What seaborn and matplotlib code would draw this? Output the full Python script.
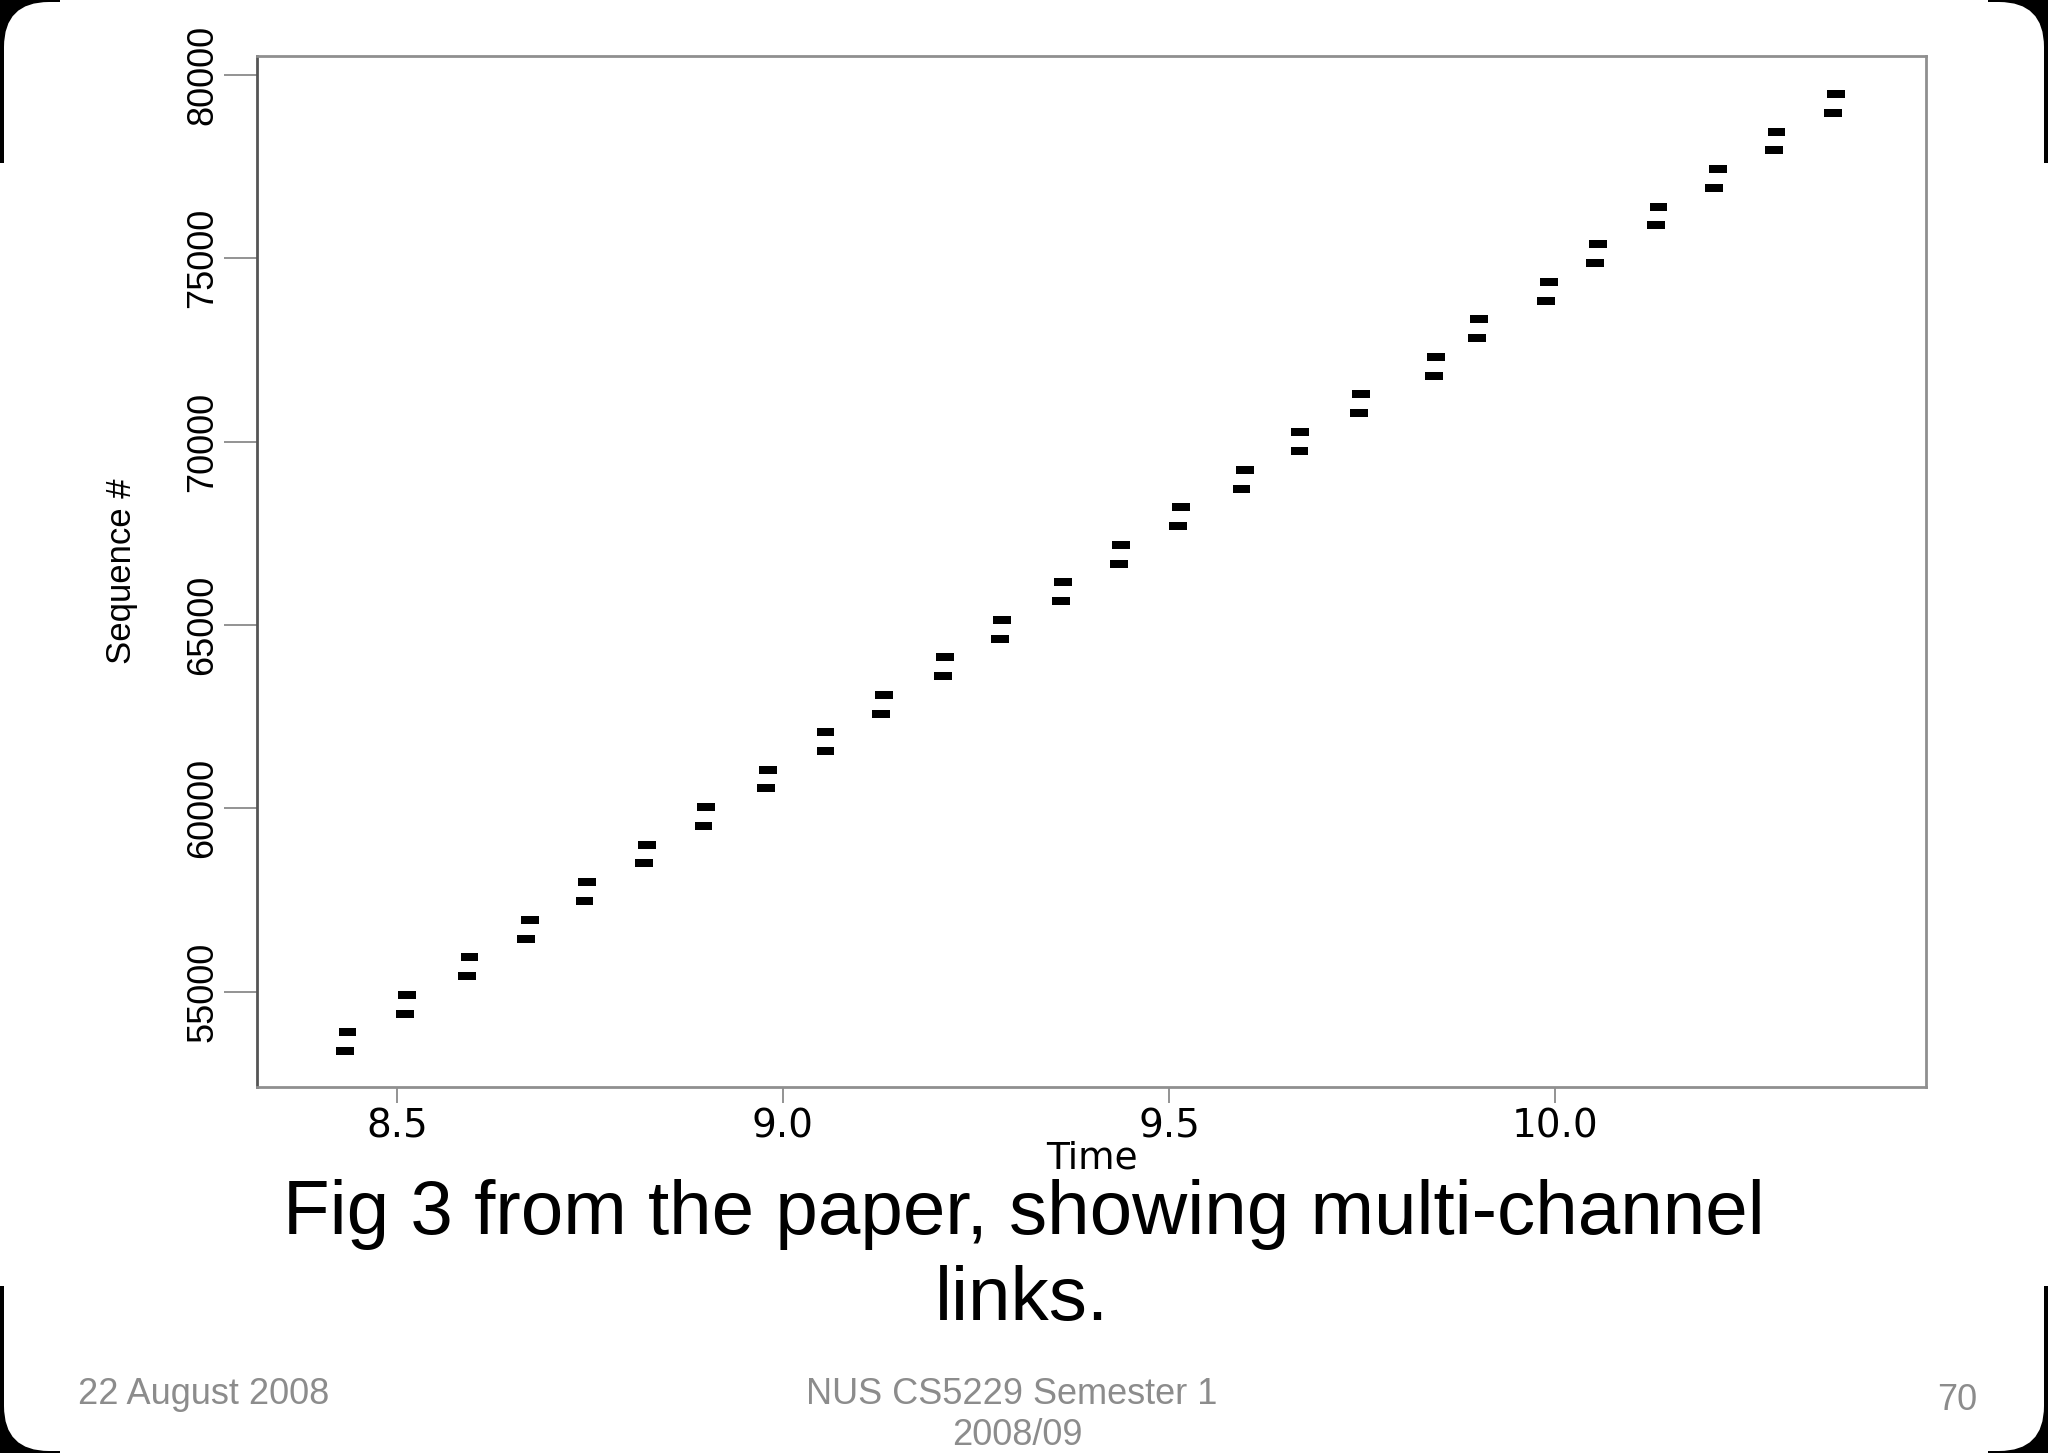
import matplotlib
matplotlib.use("Agg")
import matplotlib.pyplot as plt
from matplotlib.patches import FancyBboxPatch, Rectangle
import seaborn as sns
import pandas as pd

# ---- data ----
time_upper = [8.436, 8.513, 8.594, 8.672, 8.746, 8.824, 8.900, 8.981, 9.055, 9.131,
              9.210, 9.284, 9.363, 9.438, 9.516, 9.599, 9.670, 9.749, 9.846, 9.902,
              9.992, 10.056, 10.134, 10.211, 10.287, 10.364]
seq_upper = [53894, 54919, 55948, 56965, 57993, 59010, 60038, 61055, 62075, 63101,
             64121, 65146, 66166, 67191, 68219, 69236, 70265, 71293, 72318, 73346,
             74363, 75391, 76409, 77437, 78454, 79482]
time_lower = [8.433, 8.510, 8.591, 8.667, 8.743, 8.820, 8.897, 8.978, 9.055, 9.127,
              9.207, 9.281, 9.360, 9.435, 9.512, 9.594, 9.669, 9.746, 9.843, 9.899,
              9.988, 10.052, 10.131, 10.206, 10.284, 10.360]
seq_lower = [53384, 54401, 55430, 56447, 57474, 58503, 59520, 60548, 61565, 62583,
             63603, 64628, 65656, 66673, 67701, 68718, 69755, 70783, 71800, 72828,
             73845, 74873, 75901, 76918, 77947, 78964]

x_ticks = [8.5, 9.0, 9.5, 10.0]
x_tick_labels = ["8.5", "9.0", "9.5", "10.0"]
y_ticks = [55000, 60000, 65000, 70000, 75000, 80000]
y_tick_labels = ["55000", "60000", "65000", "70000", "75000", "80000"]

caption_1 = "Fig 3 from the paper, showing multi-channel"
caption_2 = "links."
footer_left = "22 August 2008"
footer_mid_1 = "NUS CS5229 Semester 1"
footer_mid_2 = "2008/09"
footer_right = "70"

df = pd.DataFrame({
    "Time": time_upper + time_lower,
    "Sequence": seq_upper + seq_lower,
})

sns.set_theme(style="white")
plt.rcParams["font.family"] = ["Liberation Sans", "DejaVu Sans"]

W, H = 2048, 1453
fig = plt.figure(figsize=(W / 100, H / 100), dpi=100)
fig.patch.set_facecolor("black")

# slide background (rounded white slide on black)
slide = FancyBboxPatch((0.04, 0.02), W / 100 - 0.08, H / 100 - 0.04,
                       boxstyle="round,pad=0,rounding_size=0.45",
                       transform=fig.dpi_scale_trans, facecolor="white",
                       edgecolor="none", zorder=-10)
fig.patches.append(slide)
for xl in (0.0, (W - 10) / W):
    fig.patches.append(Rectangle((xl, 167 / H), 10 / W, (1290 - 167) / H,
                                 transform=fig.transFigure, facecolor="white",
                                 edgecolor="none", zorder=-9))
fig.patches.append(Rectangle((60 / W, 0), (W - 120) / W, 1,
                             transform=fig.transFigure, facecolor="white",
                             edgecolor="none", zorder=-9))

ax = fig.add_axes([257 / W, 1 - 1087 / H, (1926 - 257) / W, (1087 - 56) / H])
ax.set_facecolor("white")

rect_marker = [(-1, -0.45), (1, -0.45), (1, 0.45), (-1, 0.45), (-1, -0.45)]
sns.scatterplot(data=df, x="Time", y="Sequence", ax=ax, marker=rect_marker,
                s=165, color="black", edgecolor="none", linewidth=0,
                legend=False)

ax.set_xlim(8.3187, 10.4806)
ax.set_ylim(52403, 80518)

ax.set_xticks(x_ticks)
ax.set_xticklabels(x_tick_labels, family=["DejaVu Sans"], fontsize=28)
ax.set_yticks(y_ticks)
ax.set_yticklabels(y_tick_labels, family=["Liberation Sans"], fontsize=26,
                   rotation=90, va="center")

ax.tick_params(axis="x", direction="out", length=11.5, width=1.3, color="#8a8a8a",
               pad=3, bottom=True, labelcolor="black")
ax.tick_params(axis="y", direction="out", length=23.5, width=1.3, color="#8a8a8a",
               pad=3, left=True, labelcolor="black")

for side, sp in ax.spines.items():
    sp.set_visible(True)
    sp.set_color("#8f8f8f")
    sp.set_linewidth(2.0)
ax.spines["left"].set_color("#555555")

ax.set_xlabel("Time", family=["DejaVu Sans"], fontsize=27, color="black",
              labelpad=-3)
ax.set_ylabel("Sequence #", family=["Liberation Sans"], fontsize=25,
              color="black", labelpad=34)
ax.grid(False)

# caption and footer
fig.text(1024 / W, 1 - 1234 / H, caption_1, ha="center", va="baseline",
         fontsize=55, color="black")
fig.text(1022 / W, 1 - 1320 / H, caption_2, ha="center", va="baseline",
         fontsize=55, color="black")
grey = "#8c8c8c"
fig.text(78 / W, 1 - 1404 / H, footer_left, ha="left", va="baseline",
         fontsize=26, color=grey)
fig.text(1012 / W, 1 - 1404 / H, footer_mid_1, ha="center", va="baseline",
         fontsize=26, color=grey)
fig.text(1017 / W, 1 - 1445 / H, footer_mid_2, ha="center", va="baseline",
         fontsize=26, color=grey)
fig.text(1957 / W, 1 - 1410 / H, footer_right, ha="center", va="baseline",
         fontsize=26, color=grey)

fig.savefig("out.png", dpi=100, facecolor=fig.get_facecolor())
